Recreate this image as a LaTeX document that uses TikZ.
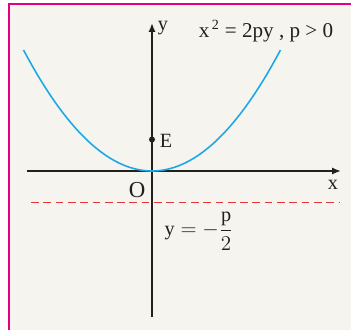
\documentclass[tikz,border=0pt]{standalone}
\usepackage{amsmath}
\usepackage{fontspec}
\setmainfont{Liberation Serif}
\usepackage{xcolor}
\usetikzlibrary{arrows.meta}

\definecolor{framepink}{HTML}{E6007E}
\definecolor{paper}{HTML}{F5F4EE}
\definecolor{curveblue}{HTML}{1BA9E6}
\definecolor{directred}{HTML}{E8343B}
\definecolor{axisgray}{HTML}{231F20}

\begin{document}
\begin{tikzpicture}[font=\fontsize{11.5}{13}\selectfont,
    axis/.style={line width=1.1pt, axisgray, -{Latex[length=5pt,width=4pt]}},
    lbl/.style={inner sep=1pt, text=axisgray}]
  \useasboundingbox (-3.04,-3.18) rectangle (3.98,3.42);
  % paper and frame
  \fill[paper] (-2.86,-3.18) rectangle (3.98,3.34);
  \draw[framepink, line width=0.7pt] (-2.86,-3.18) -- (-2.86,3.34) -- (3.98,3.34);
  % directrix
  \coordinate (dl) at (-2.42,-0.63);
  \coordinate (dr) at (3.76,-0.63);
  \draw[directred, line width=1.05pt, dash pattern=on 4.4pt off 2.6pt] (dl) -- (dr);
  % axes
  \coordinate (xa) at (-2.5,0);
  \coordinate (xb) at (3.78,0);
  \coordinate (ya) at (0,-2.92);
  \coordinate (yb) at (0,2.96);
  \draw[axis] (xa) -- (xb);
  \draw[axis] (ya) -- (yb);
  % parabola x^2 = 2py
  \draw[curveblue, line width=0.9pt, domain=-2.57:2.57, samples=60]
      plot (\x,{0.3665*\x*\x});
  % focus
  \fill[axisgray] (0,0.63) circle (0.06);
  \node[lbl] (E) at (0.28,0.6) {E};
  \node[lbl, font=\fontsize{13}{15}\selectfont] (O) at (-0.3,-0.38) {O};
  \node[lbl] (xl) at (3.62,-0.27) {x};
  \node[lbl] (yl) at (0.22,2.86) {y};
  \node[lbl, font=\fontsize{12}{14}\selectfont] (eq) at (2.28,2.8)
      {x\textsuperscript{\,2} = 2py , p > 0};
  \node[lbl, font=\fontsize{11.5}{14}\selectfont] (dir) at (0.94,-1.2)
      {$\mathrm{y} = -\dfrac{\mathrm{p}}{2}$};
\end{tikzpicture}
\end{document}
